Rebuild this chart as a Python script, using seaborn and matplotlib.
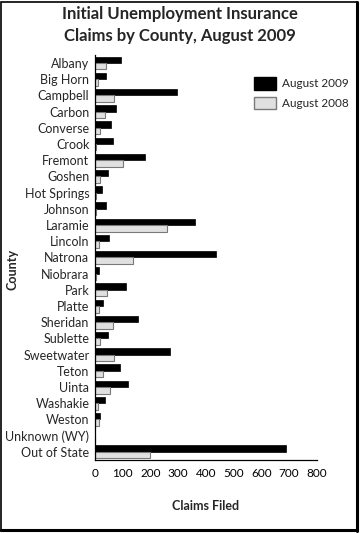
import pandas as pd
import matplotlib.pyplot as plt
import seaborn as sns
from matplotlib.patches import Rectangle

# Claims by county
counties = ["Albany", "Big Horn", "Campbell", "Carbon", "Converse", "Crook", "Fremont",
            "Goshen", "Hot Springs", "Johnson", "Laramie", "Lincoln", "Natrona", "Niobrara",
            "Park", "Platte", "Sheridan", "Sublette", "Sweetwater", "Teton", "Uinta",
            "Washakie", "Weston", "Unknown (WY)", "Out of State"]
aug_2009 = [92, 41, 295, 75, 57, 64, 180, 47, 25, 39, 359, 50, 437, 15,
            111, 29, 155, 47, 271, 89, 120, 37, 18, 0, 688]
aug_2008 = [41, 11, 70, 36, 18, 5, 101, 18, 5, 4, 259, 15, 137, 3,
            43, 15, 65, 18, 68, 29, 54, 11, 15, 0, 200]
x_ticks = [0, 100, 200, 300, 400, 500, 600, 700, 800]

data = pd.DataFrame({
    "County": counties * 2,
    "Claims": aug_2009 + aug_2008,
    "Period": ["August 2009"] * len(counties) + ["August 2008"] * len(counties),
})

sns.set_style("white")
plt.rcParams["font.family"] = ["Lato", "DejaVu Sans"]

fig = plt.figure(figsize=(3.6, 5.33), dpi=100)
ax = fig.add_axes([0.264, 0.137, 0.616, 0.760])

sns.barplot(ax=ax, data=data, x="Claims", y="County", hue="Period", orient="h",
            hue_order=["August 2009", "August 2008"],
            palette={"August 2009": "black", "August 2008": "#e0e0e0"},
            width=0.8, dodge=True, legend=False)

# outline the light bars like the original
for bar in ax.containers[1]:
    bar.set_edgecolor("#7a7a7a")
    bar.set_linewidth(0.8)
for bar in ax.containers[0]:
    bar.set_edgecolor("black")
    bar.set_linewidth(0.5)

ax.set_xlim(0, 800)
ax.set_ylim(len(counties) - 0.5, -0.5)
ax.set_xticks(x_ticks)
ax.tick_params(axis="x", direction="in", length=7, width=0.8, labelsize=8.5, pad=6, colors="black")
ax.tick_params(axis="y", length=0, labelsize=9, pad=4)
for side in ["top", "right"]:
    ax.spines[side].set_visible(False)
for side in ["left", "bottom"]:
    ax.spines[side].set_color("black")
    ax.spines[side].set_linewidth(0.9)

ax.set_xlabel("Claims Filed", fontweight="bold", fontsize=9, labelpad=15)
ax.set_ylabel("")
fig.text(0.035, 0.495, "County", rotation=90, fontweight="bold", fontsize=9,
         ha="center", va="center")

fig.suptitle("Initial Unemployment Insurance\nClaims by County, August 2009",
             fontweight="bold", fontsize=12, y=0.988, linespacing=1.4)

handles = [Rectangle((0, 0), 1, 1, facecolor="black", edgecolor="black"),
           Rectangle((0, 0), 1, 1, facecolor="#e0e0e0", edgecolor="#7a7a7a")]
fig.legend(handles, ["August 2009", "August 2008"], loc="upper left",
           bbox_to_anchor=(0.705, 0.855), frameon=False, fontsize=8.5,
           handlelength=1.9, handleheight=1.25, handletextpad=0.45,
           labelspacing=0.6, borderpad=0, borderaxespad=0)

# frame around the whole picture, heavier on the right and bottom
fig.patches.append(Rectangle((0.004, 0.004), 0.988, 0.993, transform=fig.transFigure,
                             fill=False, edgecolor="black", linewidth=1.2))
fig.add_artist(plt.Line2D([0.992, 0.992], [0.004, 0.997], transform=fig.transFigure,
                          color="black", linewidth=2.2))
fig.add_artist(plt.Line2D([0.004, 0.992], [0.005, 0.005], transform=fig.transFigure,
                          color="black", linewidth=2.2))

fig.savefig("out.png", dpi=100)
